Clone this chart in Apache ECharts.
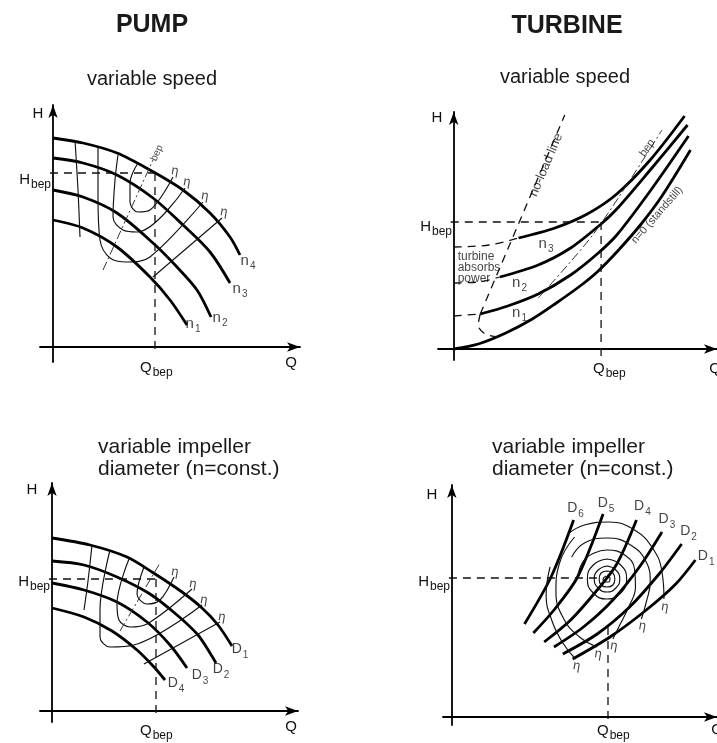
<!DOCTYPE html>
<html><head><meta charset="utf-8">
<script src="https://cdn.jsdelivr.net/npm/echarts@6/dist/echarts.min.js"></script>
<style>html,body{margin:0;padding:0;background:#fff}#c{width:717px;height:743px}</style>
</head><body><div id="c"></div>
<script>
// ---------- DATA (data units = offsets from each panel's origin) ----------
// Panel 1: pump, variable speed
const P1_N4 = [[0,209],[30,204],[64,194],[97,177],[130,157],[157,134],[177,110],[187,92]];
const P1_N3 = [[0,189],[30,184],[64,172],[100,149],[130,122],[157,95],[177,64]];
const P1_N2 = [[0,157],[30,150],[64,134],[100,104],[124,80],[144,57],[158,30]];
const P1_N1 = [[0,127],[30,119],[64,100],[97,70],[117,47],[134,22]];
const P1_ETA = [
  [[85,184],[77,164],[77,145],[85,135],[97,137],[120,170]],
  [[65,192],[62,167],[60,130],[70,117],[84,115],[132,159]],
  [[45,199],[45,150],[47,107],[57,89],[74,85],[97,90],[150,145]],
  [[22,207],[25,157],[27,110]],
  [[100,70],[169,129]]
];
const P1_BEPLINE = [[50,77],[100,187]];
const P1_HBEP = [[-3,174],[102,174]];
const P1_QBEP = [[102,174],[102,-8]];
const P1_CURVE_LABELS = [['n','4',195,86],['n','3',187,58],['n','2',167,29],['n','1',140,23]];
const P1_ETA_MARKS = [[122,176],[134,165],[152,151],[171,135]];
const P1_BEP_TEXT = ['bep',104,194];

// Panel 2: turbine, variable speed
const P2_N0 = [[0,0],[25,5],[53,16],[80,30],[103,45],[130,64],[146,77],[166,97],[190,124],[212,153],[241,199]];
const P2_N1 = [[27,35],[55,43],[86,55],[119,74],[146,95],[166,114],[200,158],[239,213]];
const P2_N2 = [[47,72],[86,84],[119,101],[150,125],[166,140],[200,179],[238,224]];
const P2_N3 = [[66,111],[103,121],[136,135],[166,155],[200,189],[235,233]];
const P2_EXT = [
  [[0,102],[36,104],[66,111]],
  [[0,66],[25,67],[47,72]],
  [[0,33],[27,35]],
  [[27,35],[25,24],[32,15],[45,12]]
];
const P2_NOLOAD = [[27,35],[113,234]];
const P2_BEPLINE = [[86,51],[143,116],[212,219]];
const P2_HBEP = [[-3,127],[150,127]];
const P2_QBEP = [[150,127],[150,-7]];
const P2_CURVE_LABELS = [['n','3',94,105],['n','2',67,66],['n','1',67,36]];
const P2_NOTE = ['turbine','absorbs','power'];
const P2_NOTE_POS = [[4,92],[4,81],[4,70]];
const P2_ROT_TEXTS = [['no-load line',94,184,67],['bep',197,201,55],['n=0 (standstill)',207,134,49]];

// Panel 3: pump, variable impeller diameter
const P3_D1 = [[0,173],[38,166],[75,154],[100,139],[130,119],[150,103],[166,86],[180,65]];
const P3_D2 = [[0,150],[32,146],[65,134],[98,117],[125,96],[146,76],[158,58],[164,48]];
const P3_D3 = [[0,128],[32,121],[65,109],[95,89],[118,66],[135,43]];
const P3_D4 = [[0,103],[32,94],[60,80],[85,61],[102,44],[113,31]];
const P3_ETA = [
  [[92,144],[85,117],[95,107],[108,111],[122,134]],
  [[77,152],[65,107],[67,91],[78,84],[95,87],[140,122]],
  [[58,161],[48,101],[48,74],[58,64],[82,66],[150,106]],
  [[40,166],[36,130],[32,101]],
  [[92,47],[130,68],[168,89]]
];
const P3_BEPLINE = [[68,80],[108,148]];
const P3_HBEP = [[-3,132],[104,132]];
const P3_QBEP = [[104,132],[104,-7]];
const P3_CURVE_LABELS = [['D','1',188,61],['D','2',169,41],['D','3',148,35],['D','4',124,27]];
const P3_ETA_MARKS = [[123,139],[141,127],[152,111],[170,94]];

// Panel 4: turbine, variable impeller diameter
const P4_D6 = [[74,93],[101,140],[124,197]];
const P4_D5 = [[83,84],[104,107],[128,140],[154,203]];
const P4_D4 = [[94,75],[121,97],[148,127],[168,153],[188,197]];
const P4_D3 = [[104,70],[134,90],[164,117],[191,150],[214,185]];
const P4_D2 = [[113,63],[148,83],[181,110],[211,143],[234,173]];
const P4_D1 = [[123,58],[161,80],[198,107],[228,133],[248,157]];
const P4_RINGS = [
  [[158,142],[161,139],[160,135],[156,135],[154,138],[157,141]],
  [[158,146],[164,144],[166,138],[164,132],[158,130],[152,132],[150,138],[152,144],[158,146]],
  [[158,151],[167,147],[171,138],[167,129],[158,125],[149,129],[145,138],[149,147],[158,151]],
  [[158,158],[172,152],[178,138],[172,124],[158,118],[144,124],[138,138],[144,152],[158,158]]
];
const P4_ETA = [
  [[128,140],[134,156],[145,164],[158,167],[176,162],[186,148],[187,130],[180,110],[170,90],[164,78]],
  [[122,160],[135,174],[158,179],[182,172],[198,155],[202,135],[198,115],[193,98]],
  [[118,183],[135,192],[160,195],[186,187],[205,168],[214,145],[216,118]],
  [[125,180],[110,155],[106,125],[114,98],[130,80],[148,70]],
  [[100,150],[96,122],[102,96],[113,74],[126,58]]
];
const P4_HBEP = [[-3,139],[148,139]];
const P4_QBEP = [[159,90],[159,-7]];
const P4_CURVE_LABELS = [['D','6',126,208],['D','5',157,213],['D','4',194,210],['D','3',219,197],['D','2',241,185],['D','1',259,160]];
const P4_ETA_MARKS = [[217,110],[194,91],[165,71],[149,63],[127,51]];

// Axis extents per panel [xmin,xmax,ymin,ymax]
const AXES = [[-13,247,-15,242],[-16,268,-11,237],[-12,246,-11,228],[-9,270,-8,232]];

// ---------- RENDER ----------
const FONT = '"Liberation Sans", Arial, sans-serif';
const GRIDS = [
  {left:40, right:417, top:105, bottom:381},
  {left:438, right:-5, top:112, bottom:383},
  {left:40, right:419, top:483, bottom:21},
  {left:443, right:-5, top:485, bottom:18}
];
const THICK = {color:'#000', width:2.8};
const THIN = {color:'#111', width:1.15};
const DASH = {color:'#111', width:1.3, type:[8,6]};
const DASHDOT = {color:'#333', width:1, type:[9,3,2,3]};

function line(g, data, style, smooth) {
  return {type:'line', xAxisIndex:g, yAxisIndex:g, data:data, smooth:smooth===undefined?0.35:smooth,
    symbol:'none', showSymbol:false, silent:true, lineStyle:Object.assign({}, style), z:3};
}
const SUBRICH = {
  m:{fontSize:15, fontFamily:FONT, color:'#111', verticalAlign:'top', lineHeight:16},
  s:{fontSize:10, fontFamily:FONT, color:'#111', verticalAlign:'top', lineHeight:10, padding:[8,0,0,1]}
};
function subLabels(g, items, mainSize) {
  const rich = JSON.parse(JSON.stringify(SUBRICH));
  if (mainSize) rich.m.fontSize = mainSize;
  return {type:'scatter', xAxisIndex:g, yAxisIndex:g, symbolSize:0, silent:true, z:10,
    data: items.map(it => ({value:[it[2], it[3]], label:{formatter:'{m|' + it[0] + '}{s|' + it[1] + '}'}})),
    label:{show:true, position:'inside', rich:rich}};
}
function plainLabels(g, items, size, extra) {
  return {type:'scatter', xAxisIndex:g, yAxisIndex:g, symbolSize:0, silent:true, z:10,
    data: items.map(it => ({value:[it[1], it[2]], label:Object.assign({formatter:it[0]}, it[3]!==undefined?{rotate:it[3]}:{})})),
    label:Object.assign({show:true, position:'inside', fontSize:size, fontFamily:FONT, color:'#111'}, extra||{})};
}

const series = [];
// Panel 1
[P1_N4,P1_N3,P1_N2,P1_N1].forEach(d => series.push(line(0, d, THICK, 0.3)));
P1_ETA.forEach(d => series.push(line(0, d, THIN)));
series.push(line(0, P1_BEPLINE, DASHDOT, false));
series.push(line(0, P1_HBEP, DASH, false));
series.push(line(0, P1_QBEP, DASH, false));
series.push(subLabels(0, P1_CURVE_LABELS));
series.push(plainLabels(0, P1_ETA_MARKS.map(p => ['η', p[0], p[1], -10]), 13));
series.push(plainLabels(0, [[P1_BEP_TEXT[0], P1_BEP_TEXT[1], P1_BEP_TEXT[2], 65]], 10));
// Panel 2
[P2_N0,P2_N1,P2_N2,P2_N3].forEach(d => series.push(line(1, d, THICK, 0.3)));
P2_EXT.forEach(d => series.push(line(1, d, DASH)));
series.push(line(1, P2_NOLOAD, DASH, false));
series.push(line(1, P2_BEPLINE, DASHDOT, 0.3));
series.push(line(1, P2_HBEP, DASH, false));
series.push(line(1, P2_QBEP, DASH, false));
series.push(subLabels(1, P2_CURVE_LABELS));
series.push(plainLabels(1, P2_NOTE.map((t,i) => [t, P2_NOTE_POS[i][0], P2_NOTE_POS[i][1]]), 12, {position:'right', distance:0}));
series.push(plainLabels(1, P2_ROT_TEXTS.slice(0,1), 13));
series.push(plainLabels(1, P2_ROT_TEXTS.slice(1), 11));
// Panel 3
[P3_D1,P3_D2,P3_D3,P3_D4].forEach(d => series.push(line(2, d, THICK, 0.3)));
P3_ETA.forEach(d => series.push(line(2, d, THIN)));
series.push(line(2, P3_BEPLINE, DASHDOT, false));
series.push(line(2, P3_HBEP, DASH, false));
series.push(line(2, P3_QBEP, DASH, false));
series.push(subLabels(2, P3_CURVE_LABELS, 14));
series.push(plainLabels(2, P3_ETA_MARKS.map(p => ['η', p[0], p[1], -10]), 13));
// Panel 4
[P4_D6,P4_D5,P4_D4,P4_D3,P4_D2,P4_D1].forEach(d => series.push(line(3, d, THICK, 0.3)));
P4_RINGS.forEach(d => series.push(line(3, d, THIN, 0.5)));
P4_ETA.forEach(d => series.push(line(3, d, THIN, 0.45)));
series.push(line(3, P4_HBEP, DASH, false));
series.push(line(3, P4_QBEP, DASH, false));
series.push(subLabels(3, P4_CURVE_LABELS, 14));
series.push(plainLabels(3, P4_ETA_MARKS.map(p => ['η', p[0], p[1], -10]), 13));

function axis(i, dim) {
  const a = AXES[i];
  return {gridIndex:i, type:'value', min: dim==='x'?a[0]:a[2], max: dim==='x'?a[1]:a[3],
    axisLine:{show:true, onZero:true, symbol:['none','arrow'], symbolSize:[7,13],
      lineStyle:{color:'#000', width:1.8}},
    axisTick:{show:false}, axisLabel:{show:false}, splitLine:{show:false}};
}

const RICHG = {
  m:{fontSize:15, fontFamily:FONT, fill:'#111', verticalAlign:'top', lineHeight:16},
  s:{fontSize:12, fontFamily:FONT, fill:'#111', verticalAlign:'top', lineHeight:12, padding:[7,0,0,1]}
};
function gtext(x, y, main, sub, align) {
  return {type:'text', x:x, y:y, z:20, silent:true,
    style:{text: sub ? '{m|' + main + '}{s|' + sub + '}' : '{m|' + main + '}', rich:RICHG,
      align:align||'center', verticalAlign:'middle', textAlign:align||'center', textVerticalAlign:'middle'}};
}
function title(x, y, txt, font, align, vAlign) {
  return {type:'text', x:x, y:y, z:20, silent:true,
    style:{text:txt, font:font, fill:'#1a1a1a', lineHeight:22, align:align, verticalAlign:vAlign,
      textAlign:align, textVerticalAlign:vAlign}};
}
const graphic = [
  title(152, 25, 'PUMP', 'bold 25px ' + FONT, 'center', 'middle'),
  title(567, 26, 'TURBINE', 'bold 25px ' + FONT, 'center', 'middle'),
  title(152, 79, 'variable speed', '20px ' + FONT, 'center', 'middle'),
  title(565, 77, 'variable speed', '20px ' + FONT, 'center', 'middle'),
  title(98, 436, 'variable impeller\ndiameter (n=const.)', '21px ' + FONT, 'left', 'top'),
  title(492, 436, 'variable impeller\ndiameter (n=const.)', '21px ' + FONT, 'left', 'top'),
  gtext(38, 114, 'H'), gtext(51, 180, 'H', 'bep', 'right'), gtext(140, 368, 'Q', 'bep', 'left'), gtext(291, 363, 'Q'),
  gtext(437, 118, 'H'), gtext(452, 227, 'H', 'bep', 'right'), gtext(593, 369, 'Q', 'bep', 'left'), gtext(715, 369, 'Q'),
  gtext(32, 490, 'H'), gtext(50, 582, 'H', 'bep', 'right'), gtext(140, 731, 'Q', 'bep', 'left'), gtext(291, 727, 'Q'),
  gtext(432, 495, 'H'), gtext(450, 582, 'H', 'bep', 'right'), gtext(597, 731, 'Q', 'bep', 'left'), gtext(717, 730, 'Q')
];

const chart = echarts.init(document.getElementById('c'), null, {renderer:'canvas'});
chart.setOption({
  animation:false,
  backgroundColor:'#fff',
  grid: GRIDS,
  xAxis: [0,1,2,3].map(i => axis(i,'x')),
  yAxis: [0,1,2,3].map(i => axis(i,'y')),
  series: series,
  graphic: graphic
});
</script></body></html>
